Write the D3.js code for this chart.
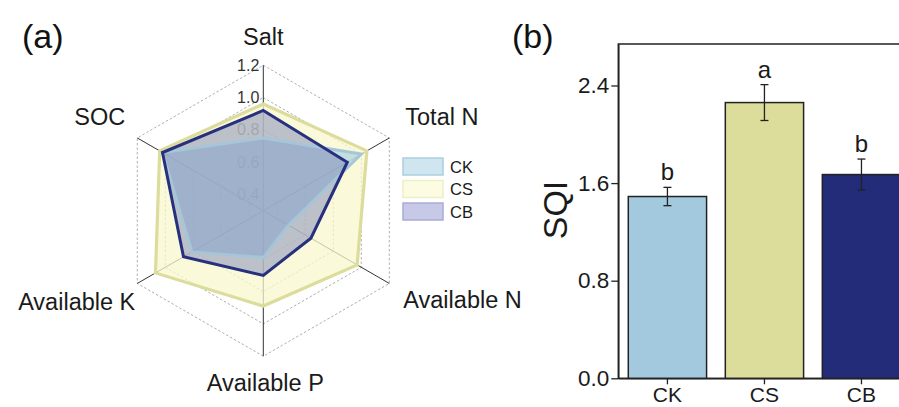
<!DOCTYPE html>
<html>
<head>
<meta charset="utf-8">
<script src="https://cdn.jsdelivr.net/npm/d3@7"></script>
<style>
  html, body { margin: 0; padding: 0; background: #fff; }
  svg { display: block; font-family: "Liberation Sans", Arial, sans-serif; }
</style>
</head>
<body>
<svg id="fig" width="899" height="407"></svg>
<script>
// ---- Radar (a): soil indicators per treatment ----
const radarAxes = ["Salt", "Total N", "Available N", "Available P", "Available K", "SOC"];
const radarTicks = [0.4, 0.6, 0.8, 1.0, 1.2];
const ckRadar = [0.75, 1.00, 0.48, 0.59, 0.81, 1.02];
const csRadar = [0.96, 1.04, 0.97, 0.89, 1.07, 1.04];
const cbRadar = [0.92, 0.90, 0.64, 0.70, 0.87, 1.02];
const treatments = ["CK", "CS", "CB"];

// ---- Bars (b): soil quality index ----
const sqiMean = [1.49, 2.26, 1.67];
const sqiErr = [0.075, 0.147, 0.127];
const sqiLetters = ["b", "a", "b"];
const sqiTicks = [0.0, 0.8, 1.6, 2.4];

const svg = d3.select("#fig");

// ===== Panel (a) =====
const cx = 263.3, cy = 210.7, R = 145.5;
const r = d3.scaleLinear().domain([0.3, 1.2]).range([0, R]);
const angle = d3.scalePoint().domain(radarAxes).range([0, 2 * Math.PI * (radarAxes.length - 1) / radarAxes.length]);
const pt = (name, rad) => {
  const a = angle(name);
  return [cx + rad * Math.sin(a), cy - rad * Math.cos(a)];
};

const ga = svg.append("g");

svg.append("text").attr("x", 22).attr("y", 48).attr("font-size", 34).attr("fill", "#111").text("(a)");

// dashed hexagonal grid
const ring = d3.lineRadial().angle(d => angle(d[0])).radius(d => r(d[1])).curve(d3.curveLinearClosed);
ga.append("g").attr("transform", `translate(${cx},${cy})`)
  .selectAll("path").data(radarTicks).join("path")
  .attr("d", t => ring(radarAxes.map(n => [n, t])))
  .attr("fill", "none").attr("stroke", "#9a9a9a").attr("stroke-width", 0.8)
  .attr("stroke-dasharray", "2.5,2");

// spokes
ga.append("g").selectAll("line").data(radarAxes).join("line")
  .attr("x1", cx).attr("y1", cy)
  .attr("x2", d => pt(d, R)[0]).attr("y2", d => pt(d, R)[1])
  .attr("stroke", "#333").attr("stroke-width", 1);

// radial tick labels
ga.append("g").selectAll("text").data(radarTicks).join("text")
  .attr("x", cx - 4).attr("y", t => cy - r(t))
  .attr("text-anchor", "end").attr("dominant-baseline", "central")
  .attr("font-size", 16).attr("fill", "#333")
  .text(t => d3.format(".1f")(t));

// series polygons
const series = [
  { key: "CS", vals: csRadar, fill: "#f8f8cf", fop: 0.75, stroke: "#dcdc9c", sw: 3.2 },
  { key: "CK", vals: ckRadar, fill: "#9ccbe0", fop: 0.6, stroke: "#a6c6d8", sw: 3 },
  { key: "CB", vals: cbRadar, fill: "#7d86b8", fop: 0.5, stroke: "#27307f", sw: 3 }
];
const shape = d3.lineRadial().angle((d, i) => angle(radarAxes[i])).radius(d => r(d)).curve(d3.curveLinearClosed);
const gp = ga.append("g").attr("transform", `translate(${cx},${cy})`);
gp.selectAll("path.fill").data(series).join("path").attr("class", "fill")
  .attr("d", s => shape(s.vals)).attr("fill", s => s.fill).attr("fill-opacity", s => s.fop)
  .attr("stroke", "none");
gp.selectAll("path.edge").data(series).join("path").attr("class", "edge")
  .attr("d", s => shape(s.vals)).attr("fill", "none")
  .attr("stroke", s => s.stroke).attr("stroke-width", s => s.sw).attr("stroke-linejoin", "miter");

// axis names
const labelPlace = {
  "Salt": [0, -28, "middle"],
  "Total N": [16, -21, "start"],
  "Available N": [14, 17, "start"],
  "Available P": [2, 27, "middle"],
  "Available K": [-2, 19, "end"],
  "SOC": [-12, -21, "end"]
};
ga.append("g").selectAll("text").data(radarAxes).join("text")
  .attr("x", d => pt(d, R)[0] + labelPlace[d][0])
  .attr("y", d => pt(d, R)[1] + labelPlace[d][1])
  .attr("text-anchor", d => labelPlace[d][2]).attr("dominant-baseline", "central")
  .attr("font-size", 23.5).attr("fill", "#1a1a1a").text(d => d);

// legend
const legendStyle = {
  CK: { fill: "#cfe6f1", stroke: "#a9cfe0" },
  CS: { fill: "#fcfce3", stroke: "#eeeec9" },
  CB: { fill: "#c7c9e6", stroke: "#a9acd6" }
};
const lg = ga.append("g").attr("transform", "translate(403,158)");
const li = lg.selectAll("g").data(treatments).join("g")
  .attr("transform", (d, i) => `translate(0,${i * 22.5})`);
li.append("rect").attr("width", 40).attr("height", 17)
  .attr("fill", d => legendStyle[d].fill).attr("stroke", d => legendStyle[d].stroke).attr("stroke-width", 1.5);
li.append("text").attr("x", 47).attr("y", 8.5).attr("dominant-baseline", "central")
  .attr("font-size", 16.5).attr("fill", "#1a1a1a").text(d => d);

// ===== Panel (b) =====
const x0 = 618.3, x1 = 910.6, yTop = 44, yBot = 378.3;
const x = d3.scaleBand().domain(treatments).range([x0, x1]).paddingInner(0.193).paddingOuter(0.103);
const y = d3.scaleLinear().domain([0, 2.74]).range([yBot, yTop]);
const barFill = { CK: "#a3c9de", CS: "#dcdc9b", CB: "#232c78" };

const gb = svg.append("g");
svg.append("text").attr("x", 512).attr("y", 48).attr("font-size", 34).attr("fill", "#111").text("(b)");

// frame (top edge and right edge)
gb.append("rect").attr("x", x0).attr("y", yTop).attr("width", x1 - x0).attr("height", yBot - yTop)
  .attr("fill", "none").attr("stroke", "#222").attr("stroke-width", 1.5);

gb.selectAll("rect.bar").data(treatments).join("rect").attr("class", "bar")
  .attr("x", d => x(d)).attr("width", x.bandwidth())
  .attr("y", (d, i) => y(sqiMean[i])).attr("height", (d, i) => yBot - y(sqiMean[i]))
  .attr("fill", d => barFill[d]).attr("stroke", "#222").attr("stroke-width", 1.5);

// error bars
const eb = gb.append("g").attr("stroke", "#222").attr("stroke-width", 1.3);
treatments.forEach((d, i) => {
  const xc = x(d) + x.bandwidth() / 2;
  const hi = y(sqiMean[i] + sqiErr[i]), lo = y(sqiMean[i] - sqiErr[i]);
  eb.append("line").attr("x1", xc).attr("x2", xc).attr("y1", hi).attr("y2", lo);
  eb.append("line").attr("x1", xc - 4).attr("x2", xc + 4).attr("y1", hi).attr("y2", hi);
  eb.append("line").attr("x1", xc - 4).attr("x2", xc + 4).attr("y1", lo).attr("y2", lo);
});

// significance letters
gb.selectAll("text.sig").data(treatments).join("text").attr("class", "sig")
  .attr("x", d => x(d) + x.bandwidth() / 2)
  .attr("y", (d, i) => y(sqiMean[i] + sqiErr[i]) - 7)
  .attr("text-anchor", "middle").attr("font-size", 24).attr("fill", "#1a1a1a")
  .text((d, i) => sqiLetters[i]);

// axes
const yAxis = gb.append("g").attr("transform", `translate(${x0},0)`)
  .call(d3.axisLeft(y).tickValues(sqiTicks).tickFormat(d3.format(".1f")).tickSize(7).tickSizeOuter(0).tickPadding(2));
const xAxis = gb.append("g").attr("transform", `translate(0,${yBot})`)
  .call(d3.axisBottom(x).tickSize(6).tickSizeOuter(0).tickPadding(3));
[yAxis, xAxis].forEach(a => {
  a.select(".domain").attr("stroke", "#222").attr("stroke-width", 1.5);
  a.selectAll(".tick line").attr("stroke", "#222").attr("stroke-width", 1.3);
  a.selectAll("text").attr("fill", "#1a1a1a").style("font-family", "'Liberation Sans', Arial, sans-serif");
});
yAxis.selectAll("text").attr("font-size", 22.5);
xAxis.selectAll("text").attr("font-size", 21);

gb.append("text").attr("transform", "translate(567,210) rotate(-90)")
  .attr("text-anchor", "middle").attr("font-size", 34).attr("fill", "#1a1a1a").text("SQI");
</script>
</body>
</html>
